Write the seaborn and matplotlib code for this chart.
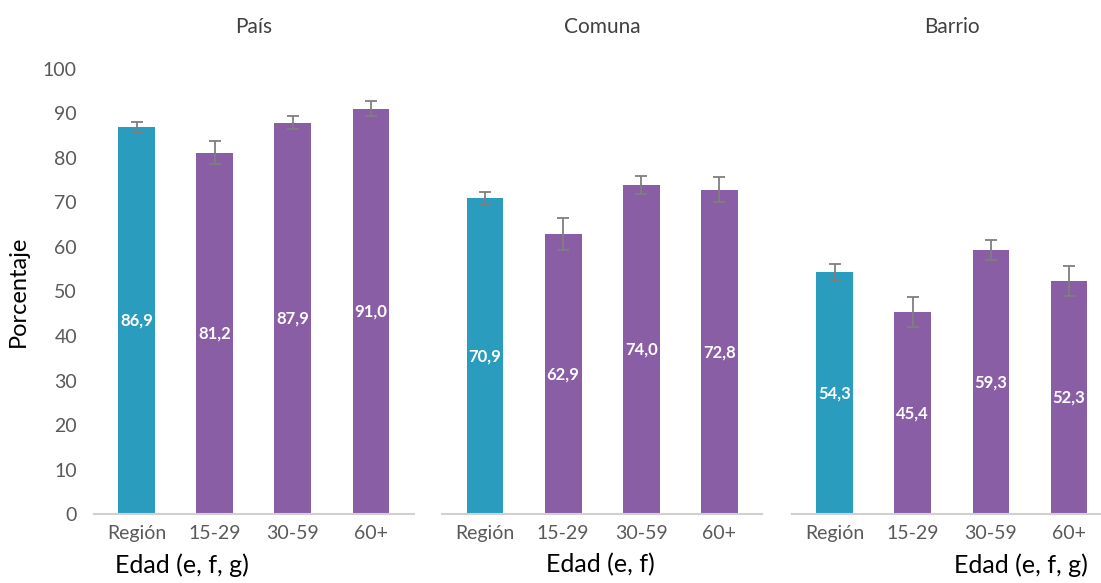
import pandas as pd
import matplotlib.pyplot as plt
import seaborn as sns

sns.set_theme(style="white")
plt.rcParams['font.family'] = ['Lato', 'DejaVu Sans']

# Data
panels = ["País", "Comuna", "Barrio"]
groups = ["Región", "15-29", "30-59", "60+"]
xlabels = ["Edad (e, f, g)", "Edad (e, f)", "Edad (e, f, g)"]
pais = [86.9, 81.2, 87.9, 91.0]
comuna = [70.9, 62.9, 74.0, 72.8]
barrio = [54.3, 45.4, 59.3, 52.3]
err_pais = [1.2, 2.6, 1.5, 1.7]
err_comuna = [1.5, 3.5, 2.0, 2.8]
err_barrio = [1.9, 3.4, 2.3, 3.4]

values = [pais, comuna, barrio]
errors = [err_pais, err_comuna, err_barrio]

teal = "#2A9DBF"
purple = "#8A5EA5"
gray_txt = "#595959"

fig = plt.figure(figsize=(11.01, 5.83), dpi=100)
lefts = [0.085, 0.4015, 0.719]
width = 0.291

for i, name in enumerate(panels):
    ax = fig.add_axes([lefts[i], 0.118, width, 0.764])
    df = pd.DataFrame({"grupo": groups, "valor": values[i],
                       "tipo": ["reg", "edad", "edad", "edad"]})
    sns.barplot(data=df, x="grupo", y="valor", hue="tipo",
                palette={"reg": teal, "edad": purple}, dodge=False,
                saturation=1, width=0.47, legend=False, ax=ax, edgecolor="none")
    ax.errorbar(range(len(groups)), values[i], yerr=errors[i], fmt="none",
                ecolor="#7f7f7f", elinewidth=1.3, capsize=4.5, capthick=1.3)
    for j, v in enumerate(values[i]):
        ax.text(j, v / 2, f"{v:.1f}".replace(".", ","), ha="center", va="center",
                color="white", fontsize=12, fontweight="bold")
    ax.set_ylim(0, 100)
    ax.set_xlim(-0.55, 3.55)
    ax.set_xlabel("")
    ax.set_ylabel("")
    ax.set_title(name, fontsize=15, color="#404040", pad=26)
    for s in ["top", "right", "left"]:
        ax.spines[s].set_visible(False)
    ax.spines["bottom"].set_color("#d0d0d0")
    ax.spines["bottom"].set_linewidth(1.5)
    ax.tick_params(axis="x", labelsize=14, labelcolor=gray_txt, length=0, pad=8)
    if i == 0:
        ax.set_yticks(range(0, 101, 10))
        ax.tick_params(axis="y", labelsize=14, labelcolor=gray_txt, length=0, pad=12)
        ax.set_ylabel("Porcentaje", fontsize=17, color="black", labelpad=10)
    else:
        ax.set_yticks([])

fig.text(0.104, 0.018, xlabels[0], fontsize=18, ha="left", color="black")
fig.text(0.545, 0.018, xlabels[1], fontsize=18, ha="center", color="black")
fig.text(0.988, 0.018, xlabels[2], fontsize=18, ha="right", color="black")

plt.savefig("out.png", dpi=100)
plt.close()
